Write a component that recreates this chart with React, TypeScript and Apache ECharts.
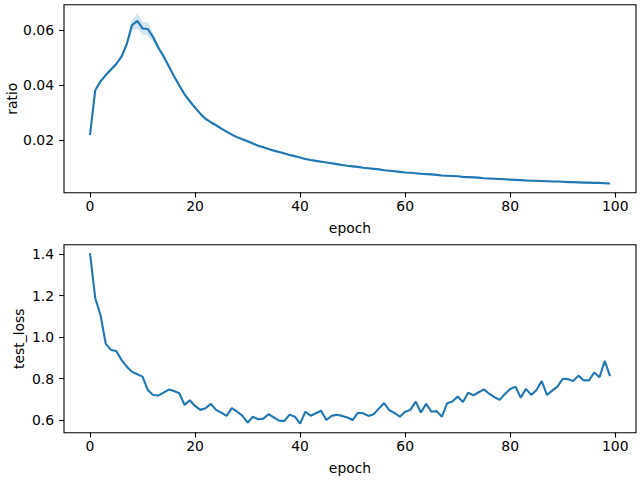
import React, { useEffect, useRef } from "react";
import * as echarts from "echarts";

const epochs: number[] = [
  0, 1, 2, 3, 4, 5, 6, 7, 8, 9, 10, 11, 12, 13, 14, 15, 16, 17, 18, 19,
  20, 21, 22, 23, 24, 25, 26, 27, 28, 29, 30, 31, 32, 33, 34, 35, 36, 37, 38, 39,
  40, 41, 42, 43, 44, 45, 46, 47, 48, 49, 50, 51, 52, 53, 54, 55, 56, 57, 58, 59,
  60, 61, 62, 63, 64, 65, 66, 67, 68, 69, 70, 71, 72, 73, 74, 75, 76, 77, 78, 79,
  80, 81, 82, 83, 84, 85, 86, 87, 88, 89, 90, 91, 92, 93, 94, 95, 96, 97, 98, 99,
];

const ratioMean: number[] = [
  0.0218, 0.0381, 0.0413, 0.0436, 0.0456, 0.0476, 0.0503, 0.0548, 0.0617, 0.0632,
  0.0605, 0.0603, 0.0574, 0.0536, 0.0504, 0.0468, 0.0432, 0.0398, 0.0366, 0.0341,
  0.0318, 0.0296, 0.0277, 0.0265, 0.0254, 0.0242, 0.0231, 0.022, 0.0211, 0.0203,
  0.0196, 0.0188, 0.018, 0.0174, 0.0168, 0.0162, 0.0157, 0.0152, 0.0146, 0.0142,
  0.0137, 0.0132, 0.0128, 0.0125, 0.0122, 0.0119, 0.0116, 0.0113, 0.011, 0.0107,
  0.0105, 0.0103, 0.01, 0.0098, 0.0096, 0.0094, 0.0091, 0.0089, 0.0087, 0.0085,
  0.0083, 0.0082, 0.008, 0.0078, 0.0077, 0.0076, 0.0074, 0.0072, 0.0071, 0.007,
  0.0069, 0.0067, 0.0066, 0.0065, 0.0064, 0.0062, 0.0061, 0.006, 0.0059, 0.0058,
  0.0057, 0.0056, 0.0055, 0.0054, 0.0053, 0.0053, 0.0052, 0.0051, 0.005, 0.005,
  0.0049, 0.0048, 0.0048, 0.0047, 0.0046, 0.0046, 0.0045, 0.0045, 0.0044, 0.0043,
];

// half-width of the shaded confidence band around the ratio mean
const ratioBand: number[] = [
  0.0004, 0.0006, 0.0006, 0.0006, 0.0006, 0.0007, 0.0008, 0.0012, 0.0018, 0.0029,
  0.0022, 0.0024, 0.0016, 0.0012, 0.001, 0.0009, 0.0008, 0.0008, 0.0007, 0.0006,
  0.0006, 0.0005, 0.0005, 0.0005, 0.0005, 0.0005, 0.0005, 0.0005, 0.0005, 0.0005,
  0.0005, 0.0004, 0.0004, 0.0004, 0.0004, 0.0004, 0.0004, 0.0004, 0.0004, 0.0004,
  0.0004, 0.0004, 0.0004, 0.0004, 0.0004, 0.0004, 0.0004, 0.0004, 0.0004, 0.0004,
  0.0004, 0.0003, 0.0003, 0.0003, 0.0003, 0.0003, 0.0003, 0.0003, 0.0003, 0.0003,
  0.0003, 0.0003, 0.0003, 0.0003, 0.0003, 0.0003, 0.0003, 0.0003, 0.0003, 0.0003,
  0.0003, 0.0003, 0.0003, 0.0003, 0.0003, 0.0003, 0.0003, 0.0003, 0.0003, 0.0003,
  0.0003, 0.0003, 0.0003, 0.0003, 0.0003, 0.0003, 0.0003, 0.0003, 0.0003, 0.0003,
  0.0003, 0.0003, 0.0003, 0.0003, 0.0003, 0.0003, 0.0003, 0.0003, 0.0003, 0.0003,
];

const testLoss: number[] = [
  1.405, 1.188, 1.107, 0.968, 0.939, 0.934, 0.891, 0.858, 0.834, 0.822,
  0.81, 0.746, 0.722, 0.719, 0.733, 0.748, 0.741, 0.73, 0.674, 0.696,
  0.669, 0.65, 0.658, 0.679, 0.65, 0.637, 0.621, 0.658, 0.641, 0.622,
  0.588, 0.617, 0.605, 0.608, 0.629, 0.614, 0.598, 0.597, 0.627, 0.617,
  0.584, 0.641, 0.622, 0.634, 0.646, 0.601, 0.621, 0.627, 0.621, 0.613,
  0.601, 0.636, 0.634, 0.621, 0.629, 0.656, 0.683, 0.648, 0.635, 0.617,
  0.641, 0.65, 0.69, 0.637, 0.679, 0.641, 0.644, 0.617, 0.682, 0.69,
  0.714, 0.688, 0.733, 0.72, 0.735, 0.749, 0.728, 0.711, 0.698, 0.727,
  0.751, 0.762, 0.709, 0.751, 0.722, 0.746, 0.789, 0.722, 0.743, 0.762,
  0.8, 0.798, 0.789, 0.815, 0.792, 0.792, 0.83, 0.807, 0.886, 0.813,
];

const xTicks: number[] = [0, 20, 40, 60, 80, 100];
const ratioTicks: number[] = [0.02, 0.04, 0.06];
const lossTicks: number[] = [0.6, 0.8, 1.0, 1.2, 1.4];

const FONT = "DejaVu Sans";
const FS = 13.9;
const BLUE = "#1f77b4";

function xAxisFor(gridIndex: number) {
  return {
    type: "value",
    gridIndex,
    min: -4.95,
    max: 103.95,
    name: "epoch",
    nameLocation: "middle",
    nameGap: 28,
    nameMoveOverlap: false,
    nameTextStyle: { fontFamily: FONT, fontSize: FS, color: "#000" },
    axisLine: { show: false, onZero: false },
    splitLine: { show: false },
    axisTick: {
      show: true,
      customValues: xTicks,
      length: 4.9,
      lineStyle: { color: "#000", width: 1.1 },
    },
    axisLabel: {
      customValues: xTicks,
      margin: 6,
      fontFamily: FONT,
      fontSize: FS,
      color: "#000",
      formatter: (v: number) => String(Math.round(v)),
    },
  };
}

function yAxisFor(
  gridIndex: number,
  name: string,
  min: number,
  max: number,
  ticks: number[],
  digits: number,
  nameGap: number
) {
  return {
    type: "value",
    gridIndex,
    min,
    max,
    name,
    nameLocation: "middle",
    nameGap,
    nameMoveOverlap: false,
    nameTextStyle: { fontFamily: FONT, fontSize: FS, color: "#000" },
    axisLine: { show: false, onZero: false },
    splitLine: { show: false },
    axisTick: {
      show: true,
      customValues: ticks,
      length: 4.9,
      lineStyle: { color: "#000", width: 1.1 },
    },
    axisLabel: {
      customValues: ticks,
      margin: 10,
      fontFamily: FONT,
      fontSize: FS,
      color: "#000",
      formatter: (v: number) => v.toFixed(digits),
    },
  };
}

export default function App() {
  const ref = useRef<HTMLDivElement>(null);

  useEffect(() => {
    if (!ref.current) return;
    const chart = echarts.init(ref.current, undefined, { renderer: "svg" });

    const bandData = epochs.map((e, i) => [
      e,
      ratioMean[i] - ratioBand[i],
      ratioMean[i] + ratioBand[i],
    ]);
    const meanData = epochs.map((e, i) => [e, ratioMean[i]]);
    const lossData = epochs.map((e, i) => [e, testLoss[i]]);

    chart.setOption({
      animation: false,
      backgroundColor: "#fff",
      grid: [
        {
          left: 64,
          top: 4.7,
          width: 572,
          height: 188,
          show: true,
          borderColor: "#000",
          borderWidth: 1.1,
          backgroundColor: "transparent",
          containLabel: false,
          outerBoundsMode: "none",
        },
        {
          left: 64,
          top: 244.7,
          width: 572,
          height: 188,
          show: true,
          borderColor: "#000",
          borderWidth: 1.1,
          backgroundColor: "transparent",
          containLabel: false,
          outerBoundsMode: "none",
        },
      ],
      xAxis: [xAxisFor(0), xAxisFor(1)],
      yAxis: [
        yAxisFor(0, "ratio", 0.00095, 0.0691, ratioTicks, 2, 45),
        yAxisFor(1, "test_loss", 0.54, 1.446, lossTicks, 1, 38),
      ],
      series: [
        {
          type: "custom",
          xAxisIndex: 0,
          yAxisIndex: 0,
          data: bandData,
          silent: true,
          encode: { x: 0, y: [1, 2] },
          renderItem: (params: any, api: any) => {
            if (params.dataIndex !== 0) return null;
            const upper = bandData.map((d) => api.coord([d[0], d[2]]));
            const lower = bandData
              .slice()
              .reverse()
              .map((d) => api.coord([d[0], d[1]]));
            return {
              type: "polygon",
              shape: { points: upper.concat(lower) },
              style: { fill: BLUE, opacity: 0.2, stroke: "none" },
            };
          },
        },
        {
          type: "line",
          xAxisIndex: 0,
          yAxisIndex: 0,
          data: meanData,
          showSymbol: false,
          lineStyle: { color: BLUE, width: 2.1 },
          itemStyle: { color: BLUE },
        },
        {
          type: "line",
          xAxisIndex: 1,
          yAxisIndex: 1,
          data: lossData,
          showSymbol: false,
          lineStyle: { color: BLUE, width: 2.1 },
          itemStyle: { color: BLUE },
        },
      ],
    });

    return () => chart.dispose();
  }, []);

  return (
    <div
      ref={ref}
      style={{ position: "fixed", left: 0, top: 0, width: 640, height: 480, background: "#fff" }}
    />
  );
}
